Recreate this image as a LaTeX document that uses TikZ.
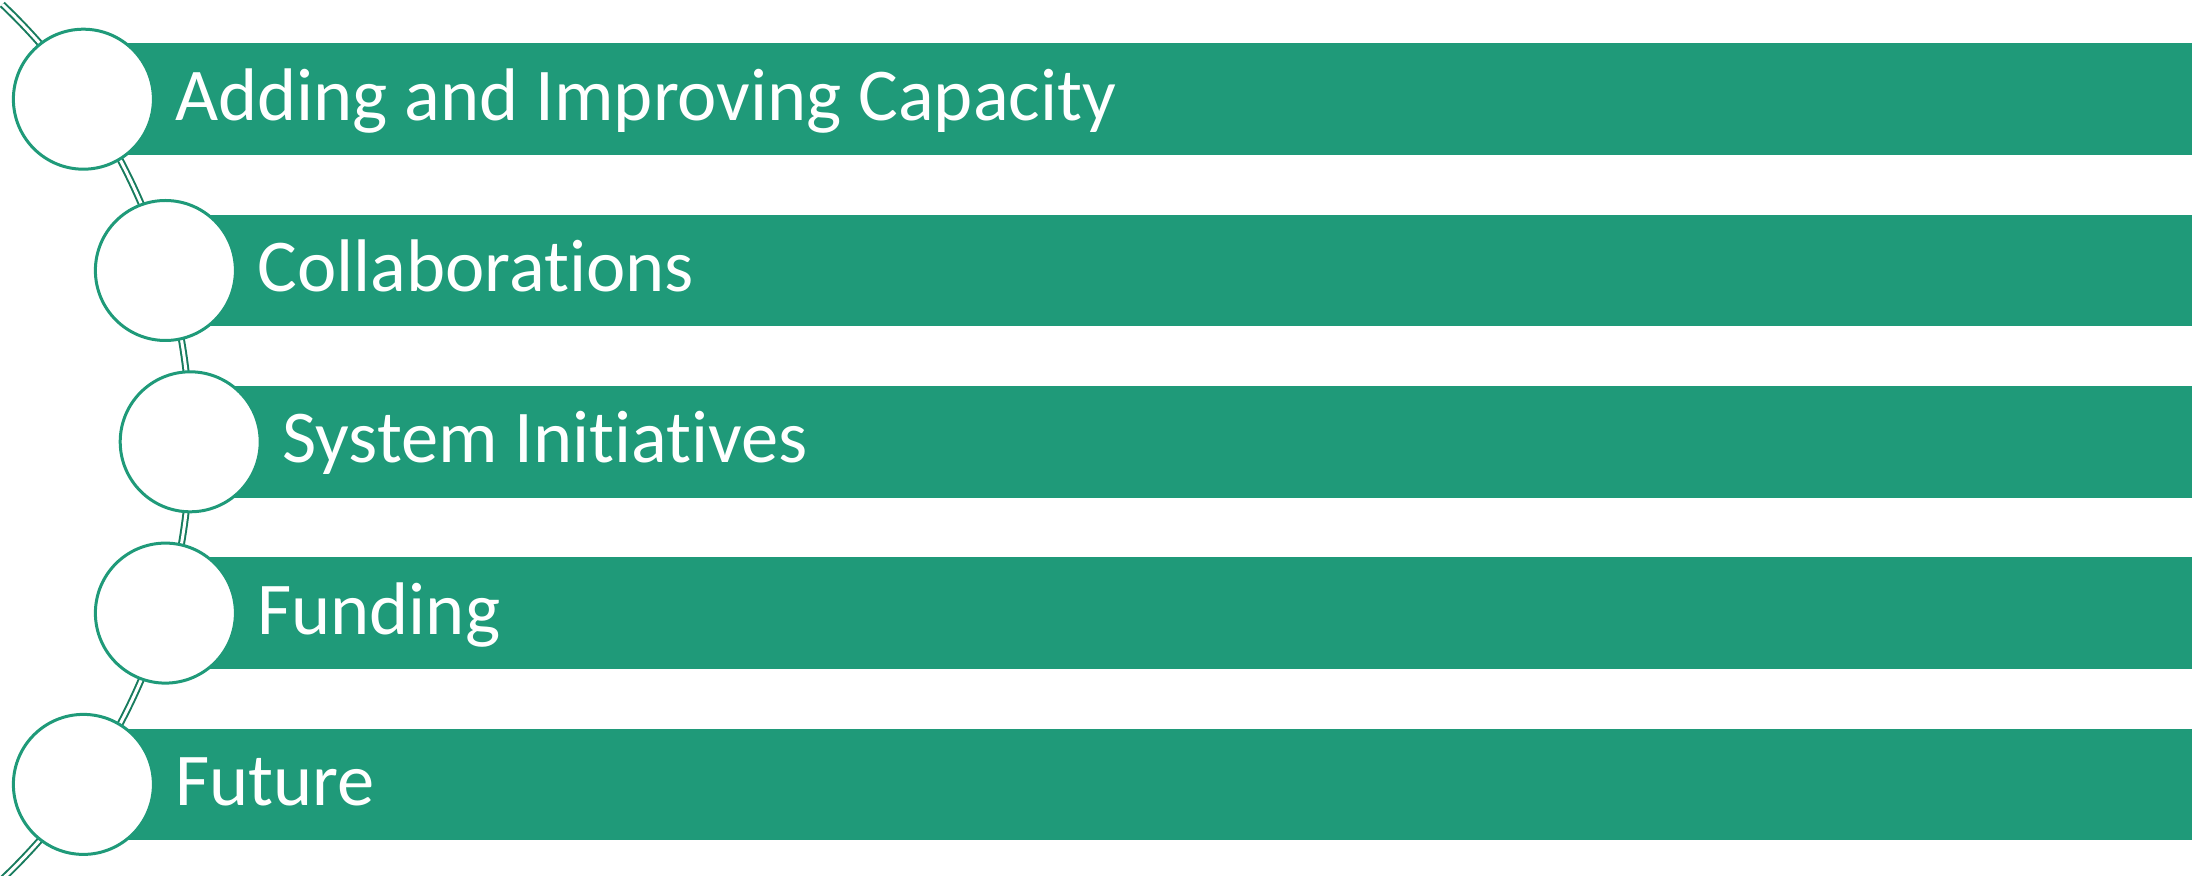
\documentclass[tikz,border=0pt]{standalone}
\usepackage{fontspec}
\setmainfont{Carlito}[Ligatures=NoCommon]
\definecolor{bargreen}{RGB}{31,154,121}
\definecolor{linegreen}{RGB}{24,124,94}
\begin{document}
\begin{tikzpicture}[x=0.5pt,y=-0.5pt,
  bar/.style={rectangle, fill=bargreen, draw=none, inner sep=0pt, anchor=west, minimum height=55.85pt},
  dot/.style={circle, fill=white, draw=bargreen, line width=1.5pt, inner sep=0pt, minimum size=70pt},
  label/.style={anchor=base west, inner sep=0pt, text=white, font=\fontsize{37.25}{44}\selectfont},
  conn/.style={draw=linegreen, line width=1pt, double=white, double distance=1.5pt}
]
\useasboundingbox (0,0) rectangle (2203,876);
% arc through the circle centres
\coordinate (arccenter) at (-412.8,441.8);
\coordinate (arctop) at ([shift={(46.5:301.5pt)}]arccenter);
\draw[conn] (arctop) arc[start angle=46.5, end angle=-46.5, radius=301.5pt] coordinate (arcbottom);
% bars
\node[bar, minimum width=1054.15pt] (b1) at (83.4,99.2) {};
\node[bar, minimum width=1013.15pt] (b2) at (165.4,270.5) {};
\node[bar, minimum width=1000.75pt] (b3) at (190.2,441.8) {};
\node[bar, minimum width=1013.15pt] (b4) at (165.4,613.1) {};
\node[bar, minimum width=1054.15pt] (b5) at (83.4,784.4) {};
% circles
\node[dot] (c1) at (83.4,99.2) {};
\node[dot] (c2) at (165.4,270.5) {};
\node[dot] (c3) at (190.2,441.8) {};
\node[dot] (c4) at (165.4,613.1) {};
\node[dot] (c5) at (83.4,784.4) {};
% labels
\node[label] (t1) at (175,120.2) {Adding and Improving Capacity};
\node[label] (t2) at (257,291.5) {Collaborations};
\node[label] (t3) at (282,462.8) {System Initiatives};
\node[label] (t4) at (257,634.1) {Funding};
\node[label] (t5) at (175,805.4) {Future};
\end{tikzpicture}
\end{document}
